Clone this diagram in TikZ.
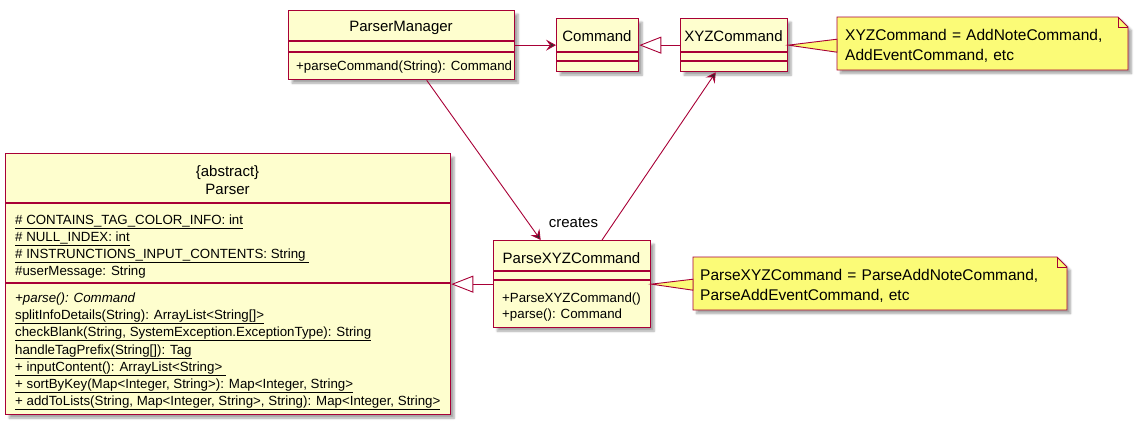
\documentclass[tikz,border=0pt]{standalone}
\usepackage{fontspec}
\setmainfont{Liberation Sans}
\usetikzlibrary{arrows.meta,shadows.blur}

\definecolor{umlred}{HTML}{A80036}
\definecolor{umlfill}{HTML}{FEFECE}
\definecolor{notefill}{HTML}{FBFB77}

\tikzset{
	boxshadow/.style={blur shadow={shadow xshift=3.5pt, shadow yshift=-3.5pt, shadow blur radius=2pt, shadow blur steps=6, shadow opacity=35}},
	classbox/.style={draw=umlred, fill=umlfill, line width=1.3pt, anchor=north west, inner sep=0pt, boxshadow},
	divider/.style={draw=umlred, line width=1.3pt},
	title/.style={anchor=base, inner sep=0pt, font=\fontsize{15pt}{18pt}\selectfont},
	member/.style={anchor=base west, inner sep=0pt, font=\fontsize{13.3pt}{17pt}\selectfont},
	notebox/.style={draw=umlred, fill=notefill, line width=0.9pt, boxshadow},
	notetext/.style={anchor=north west, inner ysep=0pt, align=left, font=\fontsize{15.5pt}{20pt}\selectfont},
	wedge/.style={draw=umlred, fill=notefill, line width=0.9pt},
	assoc/.style={draw=umlred, line width=0.9pt, -{Stealth[length=10pt, width=11pt, inset=4pt]}},
	inherit/.style={draw=umlred, line width=0.9pt, -{Triangle[open, length=22pt, width=17pt, fill=white]}}
}

\begin{document}
\begin{tikzpicture}[x=1pt, y=-1pt]
	\useasboundingbox (0,0) rectangle (1141,426);

	% classes
	\node[classbox, minimum width=226pt, minimum height=69pt]  (manager)  at (288,10)  {};
	\node[classbox, minimum width=82pt,  minimum height=53pt]  (command)  at (556,18)  {};
	\node[classbox, minimum width=107pt, minimum height=53pt]  (xyz)      at (680,18)  {};
	\node[classbox, minimum width=445pt, minimum height=261pt] (parser)   at (5,153)   {};
	\node[classbox, minimum width=157pt, minimum height=87pt]  (parsexyz) at (493,240) {};

	\draw[divider] (288,41)  -- (514,41);
	\draw[divider] (288,52)  -- (514,52);
	\draw[divider] (556,52)  -- (638,52);
	\draw[divider] (556,61)  -- (638,61);
	\draw[divider] (680,52)  -- (787,52);
	\draw[divider] (680,61)  -- (787,61);
	\draw[divider] (5,203)   -- (450,203);
	\draw[divider] (5,283)   -- (450,283);
	\draw[divider] (493,271) -- (650,271);
	\draw[divider] (493,280) -- (650,280);

	\node[title]  (managername) at (401,31)  {ParserManager};
	\node[member] (managerop)   at (296,70)  {+parseCommand(String): Command};
	\node[title]  (commandname) at (597,41)  {Command};
	\node[title]  (xyzname)     at (733.5,41) {XYZCommand};

	\node[title]  (parserkind)  at (227.5,176) {\{abstract\}};
	\node[title]  (parsername)  at (227.5,194) {Parser};
	\node[member] (pa1) at (15,224) {\underline{\# CONTAINS\_TAG\_COLOR\_INFO: int}};
	\node[member] (pa2) at (15,241) {\underline{\# NULL\_INDEX: int}};
	\node[member] (pa3) at (15,258) {\underline{\# INSTRUNCTIONS\_INPUT\_CONTENTS: String\ }};
	\node[member] (pa4) at (15,275) {\#userMessage: String};
	\node[member] (po1) at (15,302) {\textit{+parse(): Command}};
	\node[member] (po2) at (15,319) {\underline{splitInfoDetails(String): ArrayList<String[]>}};
	\node[member] (po3) at (15,336) {\underline{checkBlank(String, SystemException.ExceptionType): String}};
	\node[member] (po4) at (15,354) {\underline{handleTagPrefix(String[]): Tag}};
	\node[member] (po5) at (15,371) {\underline{+ inputContent(): ArrayList<String>\ }};
	\node[member] (po6) at (15,388) {\underline{+ sortByKey(Map<Integer, String>): Map<Integer, String>}};
	\node[member] (po7) at (15,405) {\underline{+ addToLists(String, Map<Integer, String>, String): Map<Integer, String>}};

	\node[title]  (parsexyzname) at (571.5,263) {ParseXYZCommand};
	\node[member] (px1) at (502,302) {+ParseXYZCommand()};
	\node[member] (px2) at (502,318) {+parse(): Command};

	% notes
	\draw[notebox] (837,17) -- (1118,17) -- (1128,27) -- (1128,70) -- (837,70) -- cycle;
	\draw[umlred, line width=0.9pt] (1118,17) -- (1118,27) -- (1128,27);
	\node[notetext, text width=275pt, inner xsep=8pt, minimum height=53pt, yshift=-2.5pt] (note1) at (837,17)
		{XYZCommand = AddNoteCommand,\\AddEventCommand, etc};

	\draw[notebox] (693,257) -- (1057,257) -- (1067,267) -- (1067,310) -- (693,310) -- cycle;
	\draw[umlred, line width=0.9pt] (1057,257) -- (1057,267) -- (1067,267);
	\node[notetext, text width=360pt, inner xsep=7pt, minimum height=53pt, yshift=-2.5pt] (note2) at (693,257)
		{ParseXYZCommand = ParseAddNoteCommand,\\ParseAddEventCommand, etc};

	\filldraw[wedge] (xyz.east) -- ([yshift=7pt]note1.west) -- ([yshift=-6pt]note1.west) -- cycle;
	\filldraw[wedge] (parsexyz.east) -- ([yshift=7pt]note2.west) -- ([yshift=-4pt]note2.west) -- cycle;

	% connectors
	\path[assoc]   (manager)  edge (command);
	\path[inherit] (xyz)      edge (command);
	\path[assoc]   (manager)  edge node[pos=0.919, anchor=base west, xshift=17pt, inner sep=0pt,
		font=\fontsize{15pt}{18pt}\selectfont] (createslabel) {creates} (parsexyz);
	\path[assoc]   (parsexyz) edge (xyz);
	\path[inherit] (parsexyz) edge (parser);
\end{tikzpicture}
\end{document}
